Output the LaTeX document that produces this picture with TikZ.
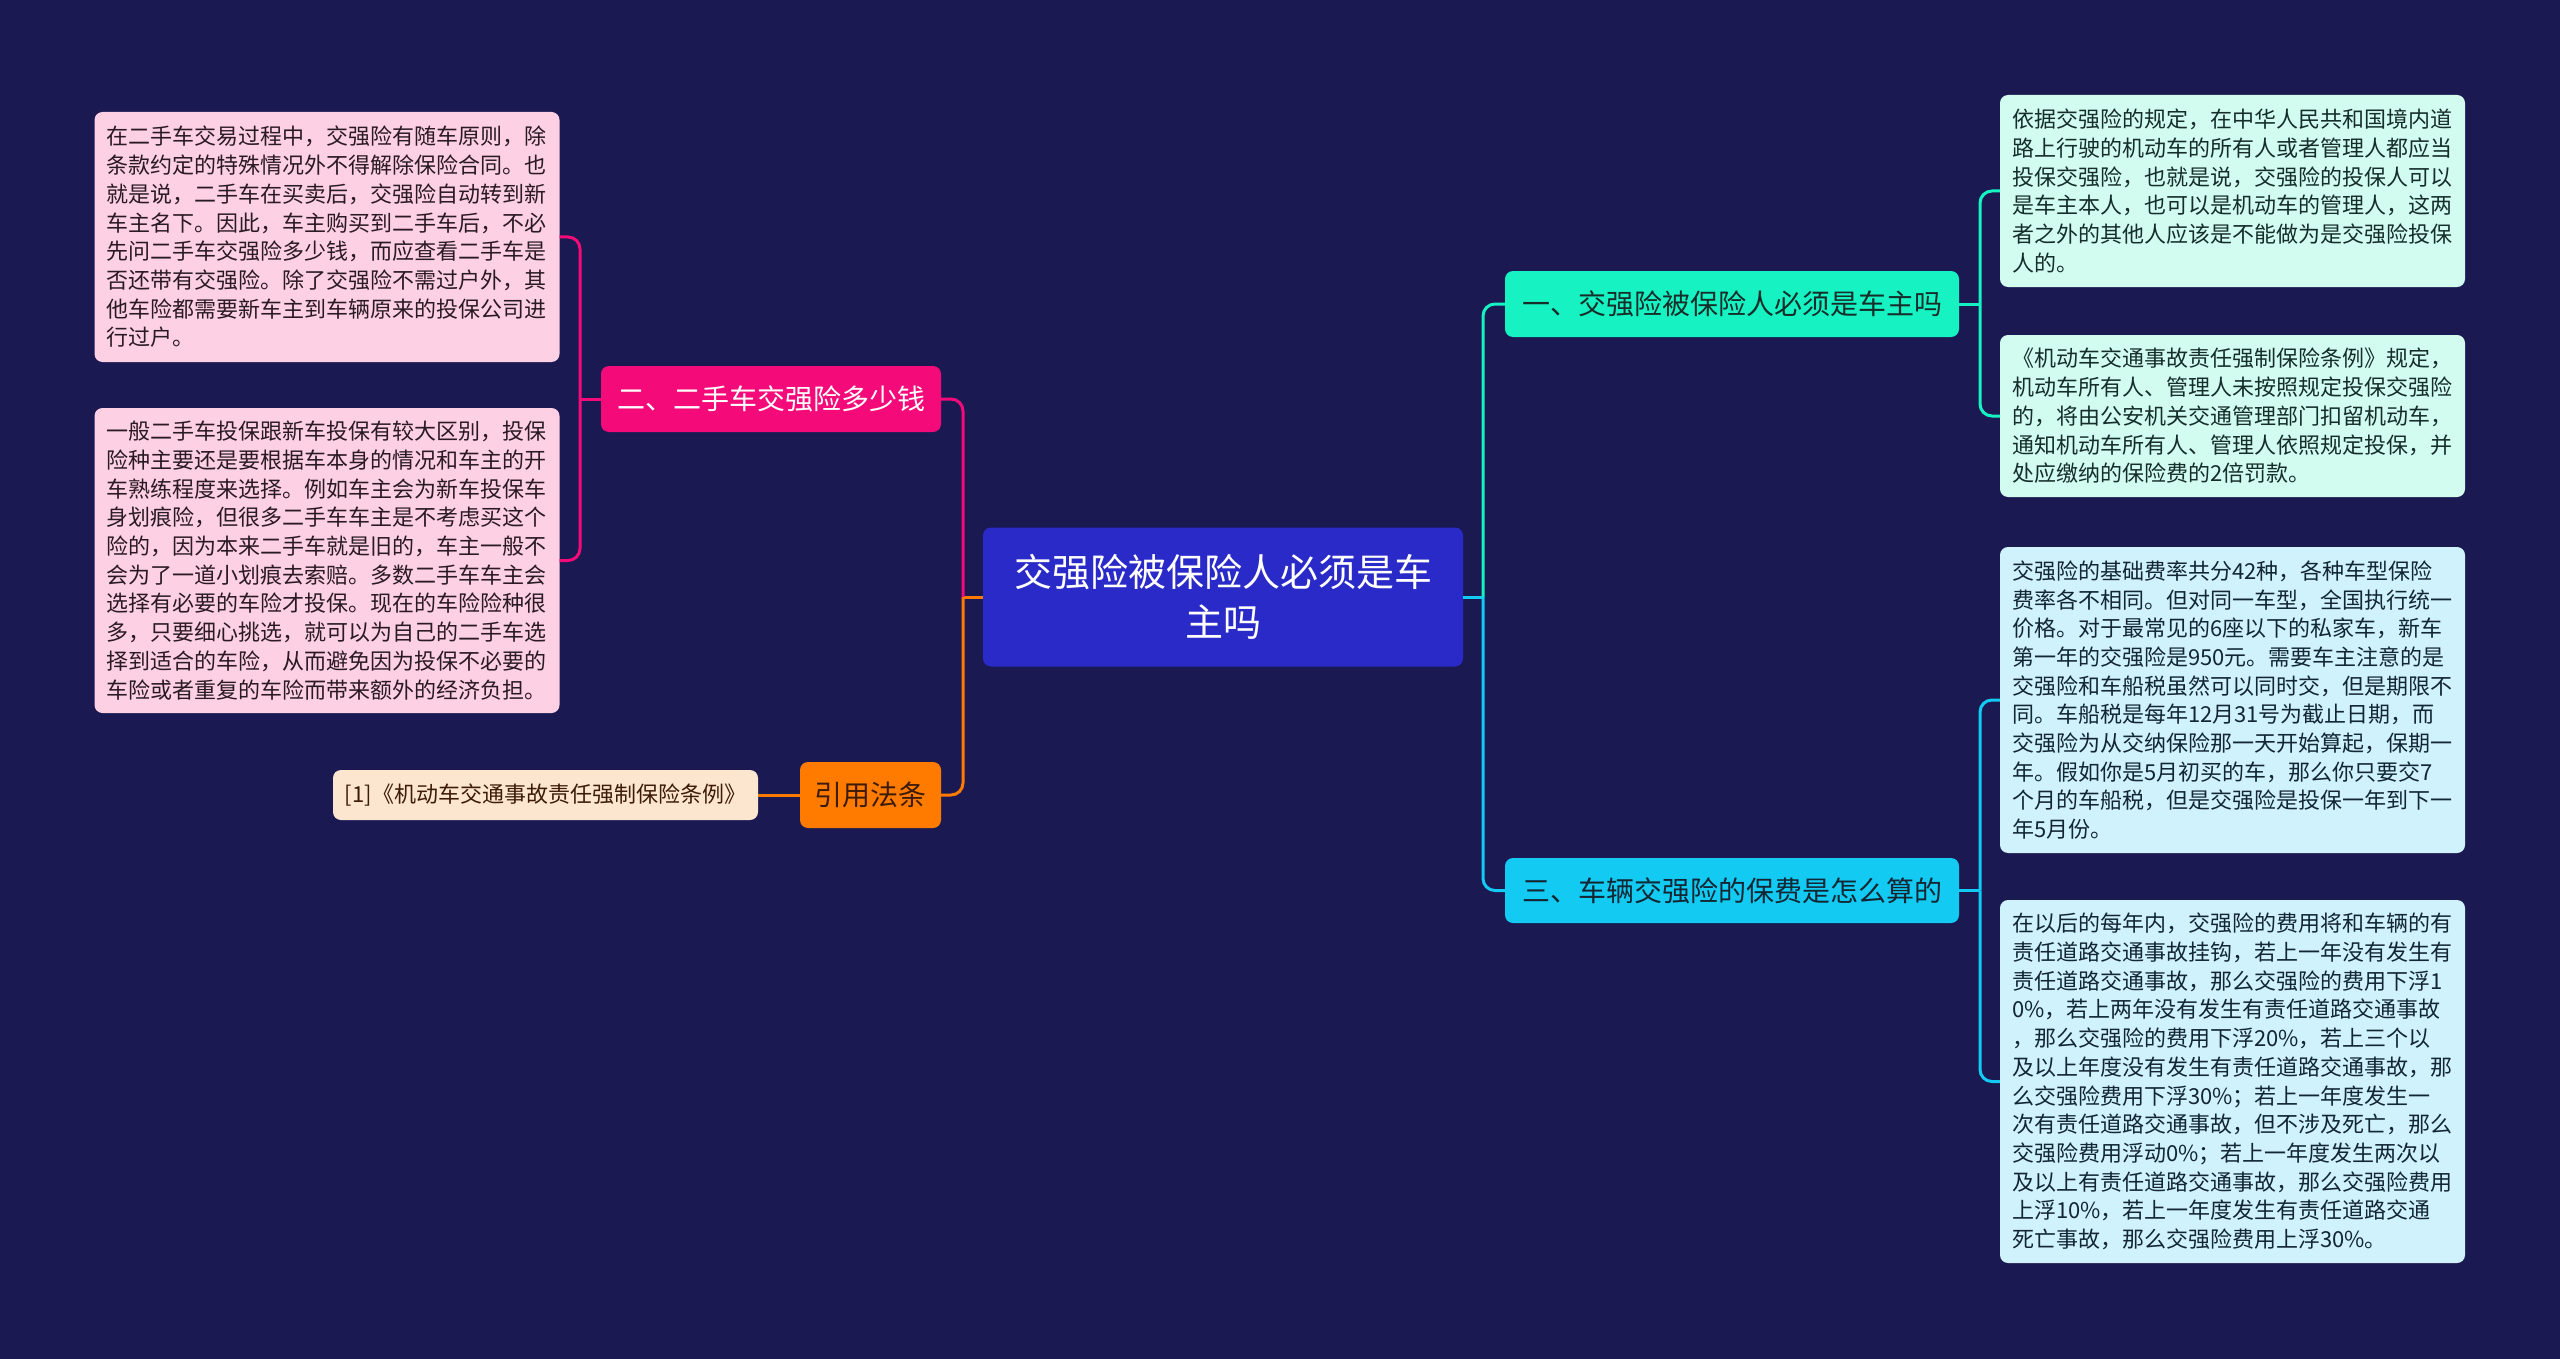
\documentclass[tikz,border=0pt]{standalone}
\usepackage{fontspec}
\setmainfont{Noto Sans CJK SC}
\definecolor{bg}{RGB}{26,25,82}
\definecolor{rootfill}{RGB}{42,42,200}
\definecolor{mint}{RGB}{22,242,194}
\definecolor{sky}{RGB}{18,202,242}
\definecolor{rose}{RGB}{245,10,122}
\definecolor{amber}{RGB}{255,123,0}
\definecolor{pinkleaf}{RGB}{253,208,228}
\definecolor{mintleaf}{RGB}{210,252,240}
\definecolor{skyleaf}{RGB}{208,242,252}
\definecolor{creamleaf}{RGB}{253,230,208}
\definecolor{pinktext}{RGB}{42,26,36}
\definecolor{minttext}{RGB}{22,46,42}
\definecolor{skytext}{RGB}{18,38,52}
\definecolor{ambertext}{RGB}{60,28,8}
\begin{document}
\begin{tikzpicture}[x=1pt,y=-1pt,
  rootbox/.style={fill=rootfill, rounded corners=8pt, text=white, align=center,
    minimum width=480pt, minimum height=139pt, inner sep=0pt,
    font=\fontsize{38pt}{50pt}\selectfont},
  branchbox/.style={rounded corners=8pt, inner sep=0pt, minimum height=66pt,
    font=\fontsize{28pt}{34pt}\selectfont},
  leafbox/.style={rounded corners=8pt, inner xsep=12pt, inner ysep=0pt,
    text width=441pt, align=left, font=\fontsize{22pt}{28.7pt}\selectfont},
  conn/.style={line width=3pt},
  linkbend/.style={line width=3pt, rounded corners=12pt}
]
\fill[bg] (0,0) rectangle (2560,1359);
\useasboundingbox (0,0) rectangle (2560,1359);

% root
\node[rootbox] (root) at (1223,597) {交强险被保险人必须是车\\主吗};

% branches
\node[branchbox, fill=mint, text=minttext, minimum width=454pt] (b1) at (1732,304) {一、交强险被保险人必须是车主吗};
\node[branchbox, fill=sky, text=skytext, minimum width=454pt, minimum height=65pt] (b3) at (1732,890.5) {三、车辆交强险的保费是怎么算的};
\node[branchbox, fill=rose, text=white, minimum width=340pt] (b2) at (771,399) {二、二手车交强险多少钱};
\node[branchbox, fill=amber, text=ambertext, minimum width=141pt] (b4) at (870.5,795) {引用法条};

% right leaves
\node[leafbox, fill=mintleaf, text=minttext, minimum height=192pt] (r1) at (2232.5,191) {依据交强险的规定，在中华人民共和国境内道\\路上行驶的机动车的所有人或者管理人都应当\\投保交强险，也就是说，交强险的投保人可以\\是车主本人，也可以是机动车的管理人，这两\\者之外的其他人应该是不能做为是交强险投保\\人的。};
\node[leafbox, fill=mintleaf, text=minttext, minimum height=162pt] (r2) at (2232.5,416) {《机动车交通事故责任强制保险条例》规定，\\机动车所有人、管理人未按照规定投保交强险\\的，将由公安机关交通管理部门扣留机动车，\\通知机动车所有人、管理人依照规定投保，并\\处应缴纳的保险费的2倍罚款。};
\node[leafbox, fill=skyleaf, text=skytext, minimum height=306pt] (r3) at (2232.5,700) {交强险的基础费率共分42种，各种车型保险\\费率各不相同。但对同一车型，全国执行统一\\价格。对于最常见的6座以下的私家车，新车\\第一年的交强险是950元。需要车主注意的是\\交强险和车船税虽然可以同时交，但是期限不\\同。车船税是每年12月31号为截止日期，而\\交强险为从交纳保险那一天开始算起，保期一\\年。假如你是5月初买的车，那么你只要交7\\个月的车船税，但是交强险是投保一年到下一\\年5月份。};
\node[leafbox, fill=skyleaf, text=skytext, minimum height=363pt] (r4) at (2232.5,1081.5) {在以后的每年内，交强险的费用将和车辆的有\\责任道路交通事故挂钩，若上一年没有发生有\\责任道路交通事故，那么交强险的费用下浮1\\0\%，若上两年没有发生有责任道路交通事故\\，那么交强险的费用下浮20\%，若上三个以\\及以上年度没有发生有责任道路交通事故，那\\么交强险费用下浮30\%；若上一年度发生一\\次有责任道路交通事故，但不涉及死亡，那么\\交强险费用浮动0\%；若上一年度发生两次以\\及以上有责任道路交通事故，那么交强险费用\\上浮10\%，若上一年度发生有责任道路交通\\死亡事故，那么交强险费用上浮30\%。};

% left leaves
\node[leafbox, fill=pinkleaf, text=pinktext, minimum height=250pt] (l1) at (327,237) {在二手车交易过程中，交强险有随车原则，除\\条款约定的特殊情况外不得解除保险合同。也\\就是说，二手车在买卖后，交强险自动转到新\\车主名下。因此，车主购买到二手车后，不必\\先问二手车交强险多少钱，而应查看二手车是\\否还带有交强险。除了交强险不需过户外，其\\他车险都需要新车主到车辆原来的投保公司进\\行过户。};
\node[leafbox, fill=pinkleaf, text=pinktext, minimum height=305pt] (l2) at (327,560.5) {一般二手车投保跟新车投保有较大区别，投保\\险种主要还是要根据车本身的情况和车主的开\\车熟练程度来选择。例如车主会为新车投保车\\身划痕险，但很多二手车车主是不考虑买这个\\险的，因为本来二手车就是旧的，车主一般不\\会为了一道小划痕去索赔。多数二手车车主会\\选择有必要的车险才投保。现在的车险险种很\\多，只要细心挑选，就可以为自己的二手车选\\择到适合的车险，从而避免因为投保不必要的\\车险或者重复的车险而带来额外的经济负担。};

% citation
\node[rounded corners=8pt, fill=creamleaf, text=ambertext, inner sep=0pt,
  minimum width=425pt, minimum height=50pt, font=\fontsize{22pt}{26pt}\selectfont] (c1) at (545.5,795) {[1]《机动车交通事故责任强制保险条例》};

% spine coordinates
\coordinate (rs) at (1483,597);
\coordinate (ls) at (963,597);
\coordinate (s1) at (1980,304);
\coordinate (s3) at (1980,890.5);
\coordinate (s2) at (580,399);

% root connectors
\draw[conn, sky] (root.east) -- (rs);
\draw[linkbend, mint] (rs) |- (b1.west);
\draw[linkbend, sky] (rs) |- (b3.west);
\draw[conn, amber] (root.west) -- (ls);
\draw[linkbend, rose] (ls) |- (b2.east);
\draw[linkbend, amber] (ls) |- (b4.east);

% branch to leaves
\draw[conn, mint] (b1.east) -- (s1);
\draw[linkbend, mint] (s1) |- (r1.west);
\draw[linkbend, mint] (s1) |- (r2.west);
\draw[conn, sky] (b3.east) -- (s3);
\draw[linkbend, sky] (s3) |- (r3.west);
\draw[linkbend, sky] (s3) |- (r4.west);
\draw[conn, rose] (b2.west) -- (s2);
\draw[linkbend, rose] (s2) |- (l1.east);
\draw[linkbend, rose] (s2) |- (l2.east);
\draw[conn, amber] (b4.west) -- (c1.east);
\end{tikzpicture}
\end{document}
